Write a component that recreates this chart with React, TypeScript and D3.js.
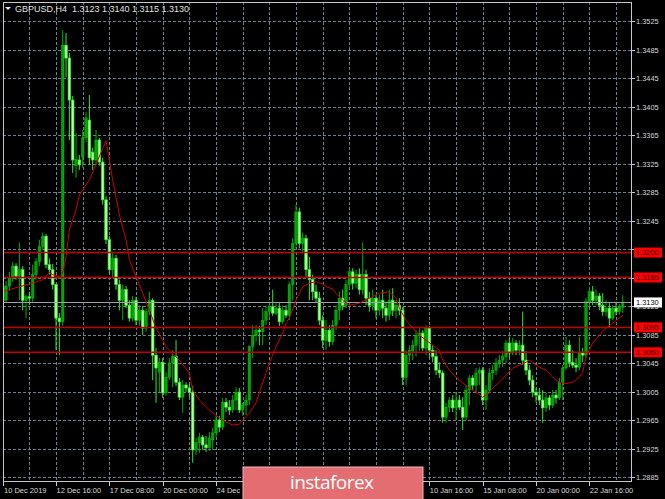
import React from "react";
import * as d3 from "d3";

const opens = [1.3152,1.3133,1.3153,1.3164,1.3181,1.3167,1.3176,1.3133,1.3138,1.3136,1.3169,1.3187,1.3209,1.3223,1.3183,1.3176,1.3155,1.3108,1.3103,1.3491,1.3473,1.3414,1.3322,1.3330,1.3334,1.3361,1.3386,1.3341,1.3330,1.3358,1.3327,1.3274,1.3218,1.3176,1.3192,1.3155,1.3133,1.3148,1.3126,1.3108,1.3133,1.3105,1.3119,1.3094,1.3117,1.3133,1.3056,1.3032,1.3046,1.3003,1.3025,1.3045,1.3054,1.3018,1.2997,1.3014,1.3010,1.3004,1.2923,1.2933,1.2941,1.2930,1.2926,1.2937,1.2947,1.2965,1.2955,1.2990,1.2983,1.2979,1.2993,1.3004,1.2979,1.2986,1.2993,1.3068,1.3084,1.3091,1.3089,1.3105,1.3117,1.3124,1.3115,1.3122,1.3103,1.3119,1.3112,1.3155,1.3213,1.3257,1.3213,1.3220,1.3176,1.3162,1.3145,1.3136,1.3105,1.3077,1.3091,1.3075,1.3098,1.3119,1.3136,1.3126,1.3155,1.3173,1.3157,1.3169,1.3148,1.3169,1.3136,1.3126,1.3136,1.3119,1.3133,1.3122,1.3112,1.3133,1.3119,1.3126,1.3119,1.3025,1.3056,1.3062,1.3070,1.3084,1.3087,1.3066,1.3094,1.3063,1.3054,1.3035,1.3031,1.2969,1.2983,1.2993,1.2982,1.2993,1.2983,1.2969,1.3007,1.3024,1.3014,1.3031,1.3035,1.2993,1.3007,1.3031,1.3035,1.3045,1.3049,1.3054,1.3073,1.3059,1.3073,1.3063,1.3070,1.3049,1.3035,1.3021,1.3004,1.3000,1.2993,1.2982,1.2996,1.2986,1.3000,1.2996,1.3018,1.3038,1.3070,1.3046,1.3042,1.3039,1.3059,1.3056,1.3131,1.3145,1.3133,1.3139,1.3126,1.3117,1.3122,1.3108,1.3122,1.3117,1.3123];
const highs = [1.3156,1.3160,1.3173,1.3187,1.3185,1.3214,1.3181,1.3141,1.3145,1.3183,1.3192,1.3218,1.3228,1.3226,1.3192,1.3184,1.3156,1.3115,1.3512,1.3508,1.3480,1.3420,1.3368,1.3337,1.3372,1.3397,1.3421,1.3347,1.3372,1.3361,1.3333,1.3279,1.3223,1.3201,1.3197,1.3162,1.3155,1.3153,1.3133,1.3139,1.3138,1.3126,1.3125,1.3122,1.3145,1.3136,1.3066,1.3052,1.3052,1.3032,1.3052,1.3063,1.3077,1.3024,1.3021,1.3018,1.3016,1.3013,1.2940,1.2947,1.2944,1.2943,1.2948,1.2954,1.2971,1.2971,1.2996,1.2996,1.2993,1.3000,1.3011,1.3010,1.2989,1.3000,1.3070,1.3098,1.3098,1.3097,1.3122,1.3126,1.3131,1.3148,1.3129,1.3129,1.3126,1.3126,1.3159,1.3220,1.3267,1.3263,1.3228,1.3225,1.3194,1.3169,1.3155,1.3145,1.3112,1.3105,1.3098,1.3105,1.3126,1.3145,1.3148,1.3162,1.3178,1.3178,1.3176,1.3178,1.3214,1.3176,1.3145,1.3148,1.3141,1.3141,1.3148,1.3131,1.3148,1.3150,1.3133,1.3136,1.3124,1.3063,1.3070,1.3077,1.3091,1.3094,1.3091,1.3098,1.3097,1.3070,1.3063,1.3046,1.3035,1.2989,1.2997,1.3000,1.3003,1.3000,1.2997,1.3014,1.3028,1.3028,1.3038,1.3039,1.3039,1.3014,1.3038,1.3042,1.3052,1.3056,1.3062,1.3077,1.3082,1.3080,1.3077,1.3077,1.3117,1.3062,1.3042,1.3028,1.3010,1.3010,1.3007,1.3003,1.3000,1.3007,1.3007,1.3024,1.3042,1.3082,1.3077,1.3063,1.3052,1.3082,1.3066,1.3136,1.3152,1.3153,1.3148,1.3143,1.3143,1.3133,1.3129,1.3126,1.3131,1.3128,1.3140];
const lows = [1.3128,1.3131,1.3146,1.3159,1.3162,1.3133,1.3119,1.3108,1.3126,1.3131,1.3162,1.3181,1.3204,1.3178,1.3169,1.3148,1.3063,1.3056,1.3097,1.3446,1.3358,1.3312,1.3305,1.3316,1.3319,1.3355,1.3323,1.3316,1.3323,1.3322,1.3267,1.3212,1.3170,1.3164,1.3148,1.3119,1.3105,1.3122,1.3103,1.3103,1.3098,1.3097,1.3084,1.3089,1.3112,1.3021,1.2989,1.3004,1.2996,1.2999,1.3021,1.3011,1.3013,1.2993,1.2975,1.3004,1.2997,1.2905,1.2916,1.2919,1.2923,1.2920,1.2922,1.2923,1.2940,1.2948,1.2951,1.2976,1.2972,1.2975,1.2979,1.2975,1.2971,1.2972,1.2986,1.3052,1.3075,1.3070,1.3070,1.3098,1.3110,1.3111,1.3112,1.3097,1.3100,1.3108,1.3105,1.3133,1.3206,1.3206,1.3201,1.3166,1.3133,1.3133,1.3129,1.3098,1.3066,1.3063,1.3068,1.3070,1.3091,1.3105,1.3119,1.3122,1.3148,1.3148,1.3150,1.3141,1.3141,1.3126,1.3117,1.3119,1.3108,1.3112,1.3108,1.3103,1.3105,1.3111,1.3108,1.3112,1.3014,1.3014,1.3046,1.3049,1.3054,1.3062,1.3062,1.3056,1.3052,1.3046,1.3028,1.3024,1.2961,1.2961,1.2976,1.2976,1.2965,1.2979,1.2951,1.2965,1.2986,1.3007,1.3004,1.3014,1.2986,1.2979,1.3003,1.3021,1.3028,1.3038,1.3039,1.3045,1.3052,1.3056,1.3056,1.3056,1.3042,1.3028,1.3014,1.2997,1.2990,1.2986,1.2961,1.2976,1.2979,1.2982,1.2988,1.2993,1.2993,1.3035,1.3039,1.3038,1.3032,1.3035,1.3046,1.3052,1.3125,1.3126,1.3126,1.3119,1.3111,1.3111,1.3095,1.3105,1.3112,1.3113,1.3115];
const closes = [1.3133,1.3153,1.3164,1.3181,1.3167,1.3176,1.3133,1.3138,1.3136,1.3169,1.3187,1.3209,1.3223,1.3183,1.3176,1.3155,1.3108,1.3103,1.3491,1.3473,1.3414,1.3330,1.3331,1.3323,1.3361,1.3389,1.3333,1.3330,1.3358,1.3327,1.3274,1.3218,1.3176,1.3192,1.3155,1.3133,1.3148,1.3126,1.3108,1.3133,1.3105,1.3119,1.3094,1.3117,1.3133,1.3056,1.3038,1.3046,1.3003,1.3025,1.3045,1.3054,1.3018,1.2997,1.3014,1.3010,1.3004,1.2923,1.2933,1.2941,1.2930,1.2926,1.2940,1.2947,1.2965,1.2955,1.2990,1.2983,1.2979,1.2993,1.3004,1.2979,1.2986,1.2993,1.3068,1.3084,1.3091,1.3089,1.3105,1.3117,1.3124,1.3115,1.3122,1.3103,1.3119,1.3112,1.3155,1.3213,1.3257,1.3213,1.3220,1.3176,1.3162,1.3145,1.3136,1.3105,1.3077,1.3091,1.3075,1.3098,1.3119,1.3136,1.3126,1.3155,1.3173,1.3157,1.3169,1.3148,1.3169,1.3136,1.3126,1.3136,1.3119,1.3133,1.3122,1.3112,1.3133,1.3119,1.3126,1.3119,1.3025,1.3056,1.3063,1.3070,1.3084,1.3087,1.3066,1.3094,1.3063,1.3054,1.3035,1.3031,1.2969,1.2983,1.2993,1.2982,1.2993,1.2983,1.2969,1.3007,1.3024,1.3014,1.3031,1.3035,1.2993,1.3007,1.3031,1.3035,1.3045,1.3049,1.3054,1.3073,1.3059,1.3073,1.3063,1.3070,1.3049,1.3035,1.3021,1.3004,1.3000,1.2993,1.2982,1.2996,1.2986,1.3000,1.2996,1.3018,1.3038,1.3070,1.3046,1.3042,1.3039,1.3059,1.3056,1.3131,1.3145,1.3133,1.3139,1.3126,1.3117,1.3122,1.3108,1.3122,1.3117,1.3124,1.3130];

// moving average at bar indices
const maBars = [0,2,5,9,12,14,15,17,18,19,20,22,23,26,31,33,35,37,38,41,44,46,49,50,53,56,57,59,62,65,67,69,71,72,74,76,78,80,82,84,85,86,88,90,92,94,96,97,99,100,102,104,107,110,113,116,118,119,121,123,125,127,129,131,132,134,136,138,140,142,144,146,147,149,151,153,155,157,158,159,161,163,165,167,169,171,173,174,175,177,179,181,183,186];
const maValues = [1.3145,1.3148,1.3152,1.3157,1.3162,1.3172,1.3169,1.3166,1.3172,1.3194,1.3232,1.3260,1.3281,1.3302,1.3357,1.3302,1.3253,1.3218,1.3190,1.3155,1.3119,1.3094,1.3068,1.3063,1.3049,1.3031,1.3007,1.2993,1.2979,1.2968,1.2962,1.2958,1.2959,1.2965,1.2975,1.2989,1.3017,1.3045,1.3068,1.3087,1.3101,1.3108,1.3133,1.3152,1.3157,1.3159,1.3156,1.3152,1.3149,1.3143,1.3133,1.3126,1.3129,1.3136,1.3143,1.3145,1.3136,1.3122,1.3105,1.3094,1.3084,1.3077,1.3070,1.3063,1.3049,1.3035,1.3025,1.3017,1.3010,1.3004,1.2997,1.3003,1.3010,1.3018,1.3028,1.3038,1.3042,1.3046,1.3049,1.3046,1.3039,1.3035,1.3025,1.3018,1.3016,1.3018,1.3025,1.3032,1.3054,1.3073,1.3084,1.3094,1.3101,1.3112];

const priceTicks = [1.2885,1.2925,1.2965,1.3005,1.3045,1.3085,1.3125,1.3165,1.3245,1.3285,1.3325,1.3365,1.3405,1.3445,1.3485,1.3525];
const gridPrices = [1.2885,1.2925,1.2965,1.3005,1.3045,1.3085,1.3125,1.3165,1.3205,1.3245,1.3285,1.3325,1.3365,1.3405,1.3445,1.3485,1.3525];
const timeTickBars = [0,16,32,48,64,80,96,112,128,144,160,176];
const timeTickLabels = ["10 Dec 2019","12 Dec 16:00","17 Dec 08:00","20 Dec 00:00","24 Dec 16:00","","","","10 Jan 16:00","15 Jan 08:00","20 Jan 00:00","22 Jan 16:00"];
const levelPrices = [1.3200,1.3165,1.3095,1.3060];
const levelLabels = ["1.3200","1.3165","1.3095","1.3060"];
const lastPrice = 1.3130;
const headerText = "GBPUSD,H4  1.3123 1.3140 1.3115 1.3130";

const W = 665, H = 499;
const L = 3, R = 632, T = 2, B = 482;
const FONT = "'Liberation Sans', Arial, sans-serif";

export default function App() {
  const y = d3.scaleLinear().domain([1.2885, 1.3525]).range([477, 21]);
  const x = d3.scaleLinear().domain([0, 186]).range([2.7, 2.7 + 186 * (10 / 3)]);
  const gridBars = d3.range(8, 190, 8);
  const maLine = d3.line<number>().x((_, i) => x(maBars[i])).y((v) => y(v))(maValues) || "";
  const bw = 2.6;
  const py = (p: number) => Math.round(y(p)) + 0.5;

  React.useEffect(() => {
    document.body.style.margin = "0";
    document.body.style.background = "#000";
  }, []);

  return (
    <svg width={W} height={H} style={{ position: "absolute", left: 0, top: 0, background: "#000", display: "block" }}>
      <defs>
        <clipPath id="plot"><rect x={L} y={T} width={R - L} height={B - T} /></clipPath>
      </defs>
      <rect x={0} y={0} width={W} height={H} fill="#000" />
      {/* grid */}
      <g stroke="#6f7f8f" strokeWidth={1} strokeDasharray="3,2">
        {gridPrices.map((p) => (
          <line key={"h" + p} x1={L} x2={R} y1={py(p)} y2={py(p)} />
        ))}
        {gridBars.map((b) => (
          <line key={"v" + b} x1={Math.round(x(b)) + 0.5} x2={Math.round(x(b)) + 0.5} y1={T} y2={B} />
        ))}
      </g>
      {/* candles */}
      <g clipPath="url(#plot)">
        {closes.map((c, i) => {
          const o = opens[i];
          const bull = c >= o;
          const cx = x(i);
          const yTop = y(Math.max(o, c));
          const yBot = y(Math.min(o, c));
          const h = Math.max(1, yBot - yTop);
          return (
            <g key={i}>
              <line x1={cx} x2={cx} y1={y(highs[i])} y2={y(lows[i])} stroke={bull ? "#00b000" : "#30e830"} strokeWidth={1} />
              {bull ? (
                <rect x={cx - bw / 2} y={yTop} width={bw} height={h} fill="#00a400" stroke="#10c010" strokeWidth={0.4} />
              ) : (
                <rect x={cx - bw / 2} y={yTop} width={bw} height={h} fill="#b4ff9a" stroke="#28ec28" strokeWidth={0.7} />
              )}
            </g>
          );
        })}
        {/* horizontal levels */}
        {levelPrices.map((p) => (
          <line key={"l" + p} x1={L} x2={R} y1={y(p)} y2={y(p)} stroke="#c80000" strokeWidth={1.5} />
        ))}
        <line x1={L} x2={R} y1={py(lastPrice)} y2={py(lastPrice)} stroke="#9aa0a8" strokeWidth={1} />
        <path d={maLine} fill="none" stroke="#d00000" strokeWidth={1} />
      </g>
      {/* frame */}
      <rect x={L + 0.5} y={T + 0.5} width={R - L - 1} height={B - T - 1} fill="none" stroke="#c8c8c8" strokeWidth={1} />
      {/* price axis */}
      <g fontFamily={FONT} fontSize={7.4} fill="#d8d8d8">
        {gridPrices.map((p) => (
          <line key={"tk" + p} x1={R} x2={R + 3} y1={py(p)} y2={py(p)} stroke="#c8c8c8" />
        ))}
        {priceTicks.map((p) => (
          <text key={"pt" + p} x={636} y={y(p) + 3}>{p.toFixed(4)}</text>
        ))}
      </g>
      {/* level labels */}
      <g fontFamily={FONT} fontSize={7.4}>
        {levelPrices.map((p, i) => (
          <g key={"ll" + p}>
            <rect x={634} y={y(p) - 5} width={28} height={10} fill="#ff0000" />
            <text x={636} y={y(p) + 2.5} fill="#300000">{levelLabels[i]}</text>
          </g>
        ))}
        <rect x={634} y={y(lastPrice) - 5} width={28} height={10} fill="#ffffff" />
        <text x={636} y={y(lastPrice) + 2.5} fill="#000">{lastPrice.toFixed(4)}</text>
      </g>
      {/* time axis */}
      <g fontFamily={FONT} fontSize={7.5} fill="#d8d8d8">
        {timeTickBars.map((b, i) => (
          <g key={"tt" + b}>
            <line x1={Math.max(L + 0.5, Math.round(x(b)) + 0.5)} x2={Math.max(L + 0.5, Math.round(x(b)) + 0.5)} y1={B} y2={B + 4} stroke="#c8c8c8" />
            {timeTickLabels[i] ? <text x={Math.max(L + 1, x(b) + 0.5)} y={493}>{timeTickLabels[i]}</text> : null}
          </g>
        ))}
      </g>
      {/* header */}
      <path d="M5,7 L11,7 L8,10 Z" fill="#e8e8e8" />
      <text x={15} y={12} fontFamily={FONT} fontSize={9} fill="#e0e0e0" style={{ whiteSpace: "pre" }}>{headerText}</text>
      {/* watermark */}
      <rect x={243} y={467} width={180} height={40} fill="#e36d70" stroke="#f2b8b8" strokeWidth={1} />
      <text x={332} y={489} textAnchor="middle" fontFamily="'Open Sans', sans-serif" fontSize={19} fill="#ffffff" textLength={84}>instaforex</text>
    </svg>
  );
}
